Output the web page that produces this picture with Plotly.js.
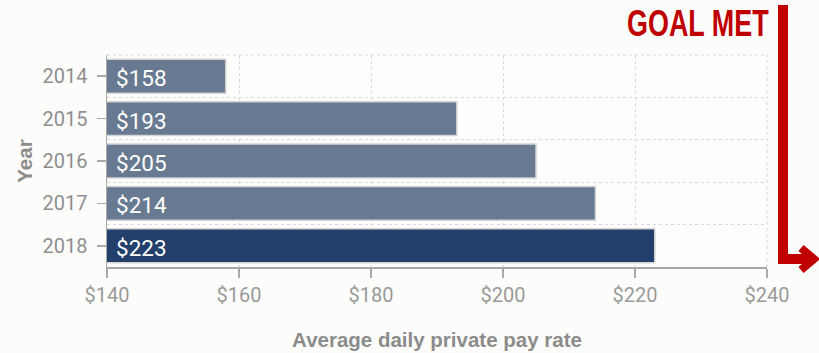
<!DOCTYPE html>
<html>
<head>
<meta charset="utf-8">
<script src="https://cdn.plot.ly/plotly-3.0.1.min.js"></script>
<style>html,body{margin:0;padding:0;background:#fcfcfa;}#chart{width:819px;height:353px;}</style>
</head>
<body>
<div id="chart"></div>
<script>
var years = ["2014", "2015", "2016", "2017", "2018"];
var payRates = [158, 193, 205, 214, 223];
var barColors = ["#687a91", "#687a91", "#687a91", "#687a91", "#22406b"];
var xTickVals = [140, 160, 180, 200, 220, 240];
var xTickText = ["$140", "$160", "$180", "$200", "$220", "$240"];

var L = 107, R = 767, T = 55, B = 267;
function px(x) { return (x - L) / (R - L); }
function py(y) { return (B - y) / (B - T); }

var trace = {
  type: "bar",
  orientation: "h",
  y: years,
  x: payRates,
  marker: { color: barColors, line: { color: "#d4d4d4", width: 1.5 } },
  textposition: "none",
  hoverinfo: "none"
};

var gridTrace = {
  type: "scatter", x: [xTickVals[0]], y: [0], yaxis: "y2", mode: "markers",
  marker: { opacity: 0 }, hoverinfo: "none", showlegend: false
};

// bar value labels: placed at the left end of each bar (category index i on the y axis)
var barLabels = years.map(function (yr, i) {
  return {
    text: "$" + payRates[i], xref: "x", yref: "y",
    x: xTickVals[0], y: i, xanchor: "left", yanchor: "middle",
    xshift: 7, yshift: -2, showarrow: false,
    font: { color: "#ffffff", size: 22.5, family: "Roboto, Arial, sans-serif" }
  };
});

var dashedFrame = { color: "#d8d8d8", width: 1, dash: "3px,3px" };

var layout = {
  width: 819, height: 353,
  margin: { l: L, r: 819 - R, t: T, b: 353 - B, pad: 0 },
  paper_bgcolor: "#fcfcfa",
  plot_bgcolor: "#fdfdfc",
  showlegend: false,
  bargap: 0.2,
  font: { family: "Roboto, Arial, sans-serif", color: "#999999" },
  xaxis: {
    range: [140, 240],
    tickvals: xTickVals,
    ticktext: xTickText,
    showline: true, linecolor: "#a8a8a8", linewidth: 1.5,
    ticks: "outside", ticklen: 9, tickcolor: "#a8a8a8", tickwidth: 1.5,
    showgrid: true, gridcolor: "#d8d8d8", griddash: "3px,3px", gridwidth: 1,
    zeroline: false,
    tickfont: { size: 20, color: "#9a9a9a", family: "Roboto, Arial, sans-serif" },
    title: { text: "Average daily private pay rate", standoff: 27,
             font: { size: 20.5, color: "#8c8c8c", family: "Liberation Sans, Arial, sans-serif", weight: "bold" } }
  },
  yaxis: {
    type: "category",
    categoryorder: "array", categoryarray: years,
    range: [years.length - 0.5, -0.5],
    showline: true, linecolor: "#a8a8a8", linewidth: 1.5,
    ticks: "outside", ticklen: 9, tickcolor: "#a8a8a8", tickwidth: 1.5,
    ticklabelstandoff: 5,
    showgrid: false, zeroline: false,
    tickfont: { size: 20, color: "#8f8f8f", family: "Roboto, Arial, sans-serif" },
    title: { text: "Year", standoff: 4,
             font: { size: 20.5, color: "#8c8c8c", family: "Liberation Sans, Arial, sans-serif", weight: "bold" } }
  },
  yaxis2: {
    overlaying: "y", range: [years.length - 0.5, -0.5],
    tick0: 0.5, dtick: 1, showticklabels: false, ticks: "",
    showgrid: true, gridcolor: "#d8d8d8", griddash: "3px,3px", gridwidth: 1,
    zeroline: false, showline: false
  },
  shapes: [
    { type: "line", xref: "paper", yref: "paper", x0: 0, x1: 1, y0: 1, y1: 1, line: dashedFrame, layer: "below" },
    { type: "line", xref: "paper", yref: "paper", x0: 1, x1: 1, y0: 0, y1: 1, line: dashedFrame, layer: "below" },
    { type: "path", xref: "paper", yref: "paper",
      path: "M" + px(783) + "," + py(5) + " L" + px(783) + "," + py(259) + " L" + px(809) + "," + py(259),
      line: { color: "#c00000", width: 10 } },
    { type: "path", xref: "paper", yref: "paper",
      path: "M" + px(801) + "," + py(248) + " L" + px(814) + "," + py(259) + " L" + px(801) + "," + py(270),
      line: { color: "#c00000", width: 8 } }
  ],
  annotations: barLabels.concat([
    { text: "GOAL MET", xref: "paper", yref: "paper", x: px(771), y: py(23),
      xanchor: "right", yanchor: "middle", showarrow: false,
      font: { family: "Liberation Sans, Arial, sans-serif", size: 37, color: "#c00000", weight: "bold" } }
  ])
};

Plotly.newPlot("chart", [trace, gridTrace], layout, { staticPlot: true, displayModeBar: false }).then(function (gd) {
  // condense the GOAL MET lettering horizontally, keeping its right edge fixed
  var all = gd.querySelectorAll(".annotation-text");
  var t = all[all.length - 1];
  if (t) {
    var bb = t.getBBox();
    var s = 142 / bb.width;
    var xr = bb.x + bb.width;
    var prev = t.getAttribute("transform") || "";
    t.setAttribute("transform", "matrix(" + s + ",0,0,1," + (xr * (1 - s)) + ",0) " + prev);
  }
});
</script>
</body>
</html>
